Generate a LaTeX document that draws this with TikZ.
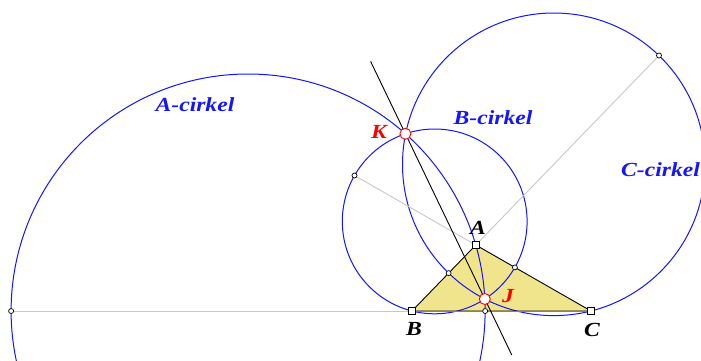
\documentclass[tikz,border=0pt]{standalone}
\usepackage{fontspec}
\setmainfont{Liberation Serif}[FakeStretch=1.18]
\definecolor{trifill}{RGB}{240,228,140}
\definecolor{auxgray}{RGB}{200,200,200}
\definecolor{circblue}{RGB}{20,20,255}
\tikzset{
  cirkel/.style={draw=circblue, line width=1pt},
  hjelp/.style={draw=auxgray, line width=0.9pt},
  hjorne/.style={draw=black, fill=white, rectangle, minimum size=6.5pt, inner sep=0pt, line width=0.7pt},
  fotpkt/.style={draw=black, fill=white, circle, minimum size=5pt, inner sep=0pt, line width=0.7pt},
  isopkt/.style={draw=red, fill=white, circle, minimum size=11pt, inner sep=0pt, line width=0.9pt},
  tekst/.style={font=\fontsize{20}{22}\selectfont\bfseries\itshape, inner sep=0pt},
}
\begin{document}
\begin{tikzpicture}[x=1pt, y=-1pt]
    \useasboundingbox (0,0) rectangle (701,360);

    % Triangle ABC
    \coordinate (A) at (475.8,245);
    \coordinate (B) at (412,311);
    \coordinate (C) at (591,311);

    % Feet of the bisectors (inner and outer)
    \coordinate (DA) at (485.2,311);
    \coordinate (EA) at (11.1,311);
    \coordinate (DB) at (514.9,267.4);
    \coordinate (EB) at (354.5,175.5);
    \coordinate (DC) at (448.6,273.1);
    \coordinate (EC) at (659.0,55.5);

    % Isodynamic points
    \coordinate (J) at (484.8,299.0);
    \coordinate (K) at (405.4,133.8);
    \coordinate (L1) at (370.6,61.4);
    \coordinate (L2) at (511.8,355);

    \fill[trifill] (A) -- (B) -- (C) -- cycle;

    % Apollonius circles
    \draw[cirkel] (248.1,311) circle (237.0pt);
    \draw[cirkel] (434.7,221.4) circle (92.4pt);
    \draw[cirkel] (553.8,164.3) circle (151.3pt);

    % Extended sides
    \draw[hjelp] (EA) -- (C);
    \draw[hjelp] (EB) -- (A);
    \draw[hjelp] (EC) -- (A);

    % Line through K and J
    \draw[black, line width=0.9pt] (L1) -- (L2);

    \draw[black, line width=0.9pt] (A) -- (B) -- (C) -- cycle;

    % Points
    \foreach \p in {DA,EA,DB,EB,DC,EC}
        \node[fotpkt] (pkt\p) at (\p) {};
    \node[hjorne] (pA) at (A) {};
    \node[hjorne] (pB) at (B) {};
    \node[hjorne] (pC) at (C) {};
    \node[isopkt] (pJ) at (J) {};
    \node[isopkt] (pK) at (K) {};

    % Labels
    \node[tekst] (tA) at (478,228) {A};
    \node[tekst] (tB) at (414,329) {B};
    \node[tekst] (tC) at (592,330) {C};
    \node[tekst, red] (tK) at (379,132) {K};
    \node[tekst, red] (tJ) at (508,296) {J};
    \node[tekst, circblue] (tAc) at (195,105) {A-cirkel};
    \node[tekst, circblue] (tBc) at (493,118) {B-cirkel};
    \node[tekst, circblue, anchor=west] (tCc) at (621,170) {C-cirkel};
\end{tikzpicture}
\end{document}
